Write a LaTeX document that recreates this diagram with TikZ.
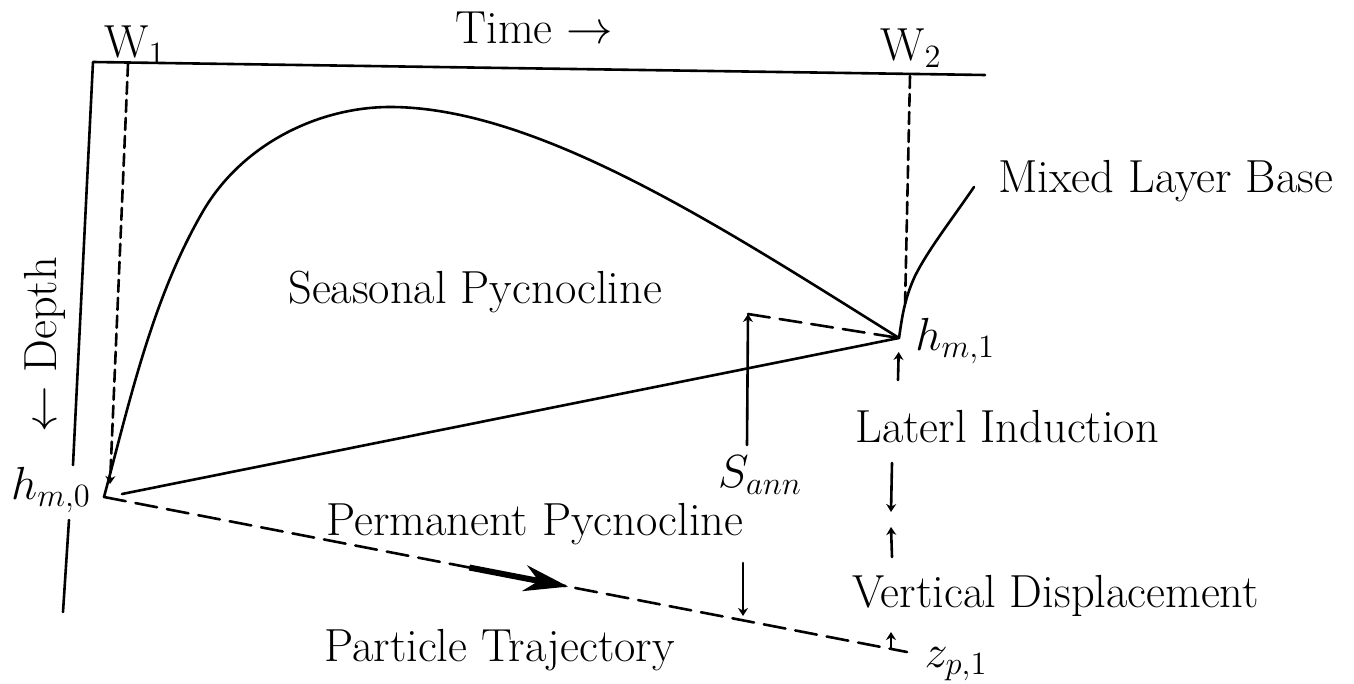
\RequirePackage{fix-cm}
\documentclass[tikz,border=0pt]{standalone}
\usetikzlibrary{arrows.meta,calc}
\begin{document}
\begin{tikzpicture}[x=0.5pt,y=-0.5pt,
  lbl/.style={font=\fontsize{23.2}{28}\selectfont, inner sep=0pt},
  ln/.style={line width=1.3pt, line cap=round, line join=round},
  dsh/.style={ln, dash pattern=on 6pt off 3pt},
  dshl/.style={ln, dash pattern=on 11pt off 5pt},
  tip/.style={-{Stealth[length=4pt,width=5pt]}}
]
\useasboundingbox (0,0) rectangle (1354,684);
\fill[white] (0,0) rectangle (1354,684);

% key points
\coordinate (corner) at (93,62);
\coordinate (topR) at (985,75);
\coordinate (axA) at (73,465);
\coordinate (axB) at (69,520);
\coordinate (axC) at (63,612);
\coordinate (hm0) at (104,497);
\coordinate (hm1) at (899,338);
\coordinate (peak) at (390,107);
\coordinate (knee) at (202,213);
\coordinate (permS) at (122,494);
\coordinate (w1top) at (128,64);
\coordinate (w1bot) at (110,484);
\coordinate (w2top) at (910,76);
\coordinate (w2bot) at (905,307);
\coordinate (sTop) at (748,314);
\coordinate (sA) at (747,445);
\coordinate (sB) at (743,563);
\coordinate (sBot) at (743,616);
\coordinate (zp) at (907,652);
\coordinate (li0) at (898,380);
\coordinate (ld0) at (892,463);
\coordinate (ld1) at (891,512);
\coordinate (lu0) at (892,557);
\coordinate (lu1) at (891,527);
\coordinate (zt0) at (891,648);
\coordinate (zt1) at (891,632);

% labels
\node[lbl, anchor=base west] (time) at (455,44) {Time $\rightarrow$};
\node[lbl] (w1) at (135,45) {W$_1$};
\node[lbl] (w2) at (911,48) {W$_2$};
\node[lbl, rotate=90] (depth) at (45,345) {$\leftarrow$ Depth};
\node[lbl] (hm0l) at (51,490) {$h_{m,0}$};
\node[lbl, anchor=west] (hm1l) at (915,341) {$h_{m,1}$};
\node[lbl, anchor=base west] (mlb) at (998,193) {Mixed Layer Base};
\node[lbl, anchor=base west] (seas) at (288,303) {Seasonal Pycnocline};
\node[lbl, anchor=base west] (perm) at (326,535) {Permanent Pycnocline};
\node[lbl] (sann) at (760,475) {$S_{ann}$};
\node[lbl, anchor=base west] (lat) at (855,442) {Laterl Induction};
\node[lbl, anchor=base west] (vert) at (852,607) {Vertical Displacement};
\node[lbl, anchor=base west] (part) at (324,661) {Particle Trajectory};
\node[lbl] (zpl) at (956,664) {$z_{p,1}$};

% axes
\draw[ln] (axA) -- (corner) -- (topR);
\draw[ln] (axB) -- (axC);

% W lines
\draw[dsh, tip] (w1top) -- (w1bot);
\draw[dsh] (w2top) -- (w2bot);

% mixed layer base curve
\draw[ln] (hm0) .. controls (130,400) and (152,300) .. (knee)
  .. controls (242,143) and (320,107) .. (peak)
  .. controls (540,107) and (729,232) .. (hm1);
\draw[ln] (hm1) .. controls (902,318) and (904,300) .. (915,276)
  .. controls (928,250) and (950,222) .. (974,187);

% permanent pycnocline
\draw[ln] (permS) -- (hm1);
\draw[dshl] (sTop) -- (hm1);

% particle trajectory
\draw[dshl] (hm0) -- (zp);
\draw[line width=3pt, -{Stealth[length=22pt,width=13pt,inset=7pt]}]
  ($(hm0)!0.455!(zp)$) -- ($(hm0)!0.578!(zp)$);

% S_ann
\draw[ln, tip] (sA) -- (sTop);
\draw[ln, tip] (sB) -- (sBot);

% lateral induction / vertical displacement
\draw[ln, tip, shorten >=7pt] (li0) -- (hm1);
\draw[ln, tip] (ld0) -- (ld1);
\draw[ln, tip] (lu0) -- (lu1);
\draw[ln, tip] (zt0) -- (zt1);
\end{tikzpicture}
\end{document}
